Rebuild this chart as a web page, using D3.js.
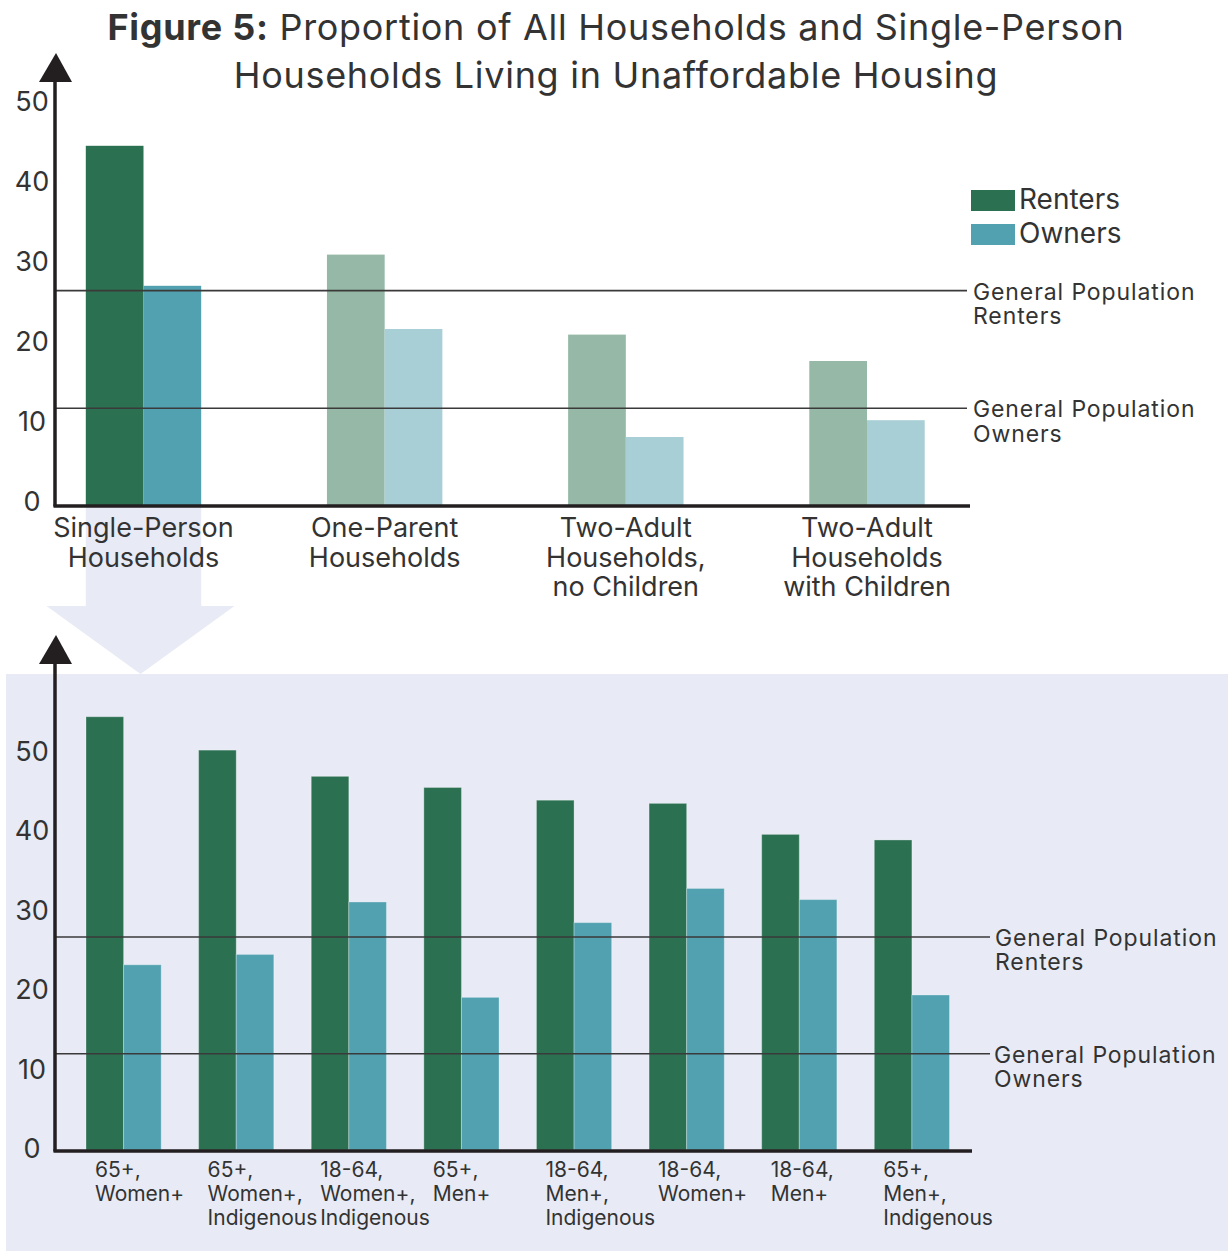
<!DOCTYPE html>
<html>
<head>
<meta charset="utf-8">
<script src="https://cdn.jsdelivr.net/npm/d3@7"></script>
<style>
  html, body { margin: 0; padding: 0; background: #ffffff; }
  svg { display: block; font-family: "Inter", "Open Sans", sans-serif; }
</style>
</head>
<body>
<svg id="chart" width="1231" height="1251"></svg>
<script>
// ---- Data -------------------------------------------------------------
const titleBold = "Figure 5:";
const titleLine1 = " Proportion of All Households and Single-Person";
const titleLine2 = "Households Living in Unaffordable Housing";

const seriesNames = ["Renters", "Owners"];
const yTicks = [0, 10, 20, 30, 40, 50];

// Household types (upper panel)
const householdLabels = [
  ["Single-Person", "Households"],
  ["One-Parent", "Households"],
  ["Two-Adult", "Households,", "no Children"],
  ["Two-Adult", "Households", "with Children"]
];
const householdRenters = [44.9, 31.3, 21.3, 18.0];
const householdOwners = [27.4, 22.0, 8.5, 10.6];

// Single-person households by age, gender and identity (lower panel)
const singleLabels = [
  ["65+,", "Women+"],
  ["65+,", "Women+,", "Indigenous"],
  ["18-64,", "Women+,", "Indigenous"],
  ["65+,", "Men+"],
  ["18-64,", "Men+,", "Indigenous"],
  ["18-64,", "Women+"],
  ["18-64,", "Men+"],
  ["65+,", "Men+,", "Indigenous"]
];
const singleRenters = [54.5, 50.3, 47.0, 45.6, 44.0, 43.6, 39.7, 39.0];
const singleOwners = [23.3, 24.6, 31.2, 19.2, 28.6, 32.9, 31.5, 19.5];

// General population reference levels
const generalRenters = 26.8;
const generalOwners = 12.1;
const referenceLabels = [
  ["General Population", "Renters"],
  ["General Population", "Owners"]
];

// ---- Styles -----------------------------------------------------------
const C = {
  renter: "#2c7052",
  owner: "#52a1b0",
  renterFaded: "#96b8a6",
  ownerFaded: "#a9cfd6",
  panel: "#e8ebf5",
  axis: "#231f20",
  text: "#333333",
  refLine: "#3a3a3a"
};

const svg = d3.select("#chart");

// ---- Title ------------------------------------------------------------
const title = svg.append("text")
  .attr("x", 616).attr("y", 40)
  .attr("text-anchor", "middle")
  .attr("font-size", 36)
  .attr("letter-spacing", 0.7)
  .attr("fill", C.text);
title.append("tspan").attr("font-weight", 700).text(titleBold);
title.append("tspan").text(titleLine1);
svg.append("text")
  .attr("x", 616).attr("y", 88)
  .attr("text-anchor", "middle")
  .attr("font-size", 36)
  .attr("letter-spacing", 0.7)
  .attr("fill", C.text)
  .text(titleLine2);

// ---- Shared helpers ---------------------------------------------------
const axisX = 55;

function drawYAxis(g, y, arrowTip, labelShift) {
  const arrowBase = arrowTip + 29;
  g.append("line")
    .attr("x1", axisX).attr("x2", axisX)
    .attr("y1", arrowBase - 2).attr("y2", y(0) + 1.5)
    .attr("stroke", C.axis).attr("stroke-width", 3.5);
  g.append("path")
    .attr("d", d3.line()([[axisX - 16, arrowBase], [axisX + 1, arrowTip], [axisX + 17, arrowBase]]) + "Z")
    .attr("fill", C.axis);

  const ax = d3.axisLeft(y).tickValues(yTicks).tickSize(0).tickPadding(0);
  const gAx = g.append("g").attr("transform", `translate(${axisX - 23},${labelShift})`).call(ax);
  gAx.select(".domain").remove();
  gAx.selectAll("text")
    .attr("text-anchor", "middle")
    .attr("x", 0)
    .attr("font-family", "Inter, sans-serif")
    .attr("font-size", 27)
    .attr("fill", C.text);
}

function drawReference(g, y, value, lines, lineEnd, textX) {
  g.append("line")
    .attr("x1", axisX).attr("x2", lineEnd)
    .attr("y1", y(value)).attr("y2", y(value))
    .attr("stroke", C.refLine).attr("stroke-width", 1.6);
  const t = g.append("text")
    .attr("x", textX).attr("y", y(value) + 9)
    .attr("font-size", 23)
    .attr("letter-spacing", 0.9)
    .attr("fill", C.text);
  lines.forEach((s, i) => t.append("tspan").attr("x", textX).attr("dy", i === 0 ? 0 : 24.5).text(s));
}

// ---- Upper panel: all household types ---------------------------------
const upperPanel = svg.append("g");
const yTop = d3.scaleLinear().domain([0, 50]).range([505, 105]);
const xTop = d3.scalePoint().domain(d3.range(householdLabels.length)).range([143.5, 867]);
const topBarW = 57.7;

// Highlight column and arrow linking the single-person group to the lower panel
const cx0 = xTop(0);
const panelTop = 674;
svg.insert("rect", ":first-child")
  .attr("x", 6).attr("y", panelTop)
  .attr("width", 1222).attr("height", 1251 - panelTop)
  .attr("fill", C.panel);
upperPanel.append("path")
  .attr("d", d3.line()([
    [cx0 - topBarW, yTop(0)], [cx0 - topBarW, 606], [cx0 - 97, 606],
    [cx0 - 3, panelTop], [cx0 + 91, 606], [cx0 + topBarW, 606], [cx0 + topBarW, yTop(0)]
  ]) + "Z")
  .attr("fill", C.panel);

householdLabels.forEach((_, i) => {
  const highlight = i === 0;
  upperPanel.append("rect")
    .attr("x", xTop(i) - topBarW).attr("width", topBarW)
    .attr("y", yTop(householdRenters[i])).attr("height", yTop(0) - yTop(householdRenters[i]))
    .attr("fill", highlight ? C.renter : C.renterFaded);
  upperPanel.append("rect")
    .attr("x", xTop(i)).attr("width", topBarW)
    .attr("y", yTop(householdOwners[i])).attr("height", yTop(0) - yTop(householdOwners[i]))
    .attr("fill", highlight ? C.owner : C.ownerFaded);
});

drawReference(upperPanel, yTop, generalRenters, referenceLabels[0], 967, 973);
drawReference(upperPanel, yTop, generalOwners, referenceLabels[1], 967, 973);

upperPanel.append("line")
  .attr("x1", axisX - 1.5).attr("x2", 970)
  .attr("y1", yTop(0) + 1).attr("y2", yTop(0) + 1)
  .attr("stroke", C.axis).attr("stroke-width", 3.5);
drawYAxis(upperPanel, yTop, 53, -3);

householdLabels.forEach((lines, i) => {
  const t = upperPanel.append("text")
    .attr("x", xTop(i)).attr("y", 537)
    .attr("text-anchor", "middle")
    .attr("font-size", 27)
    .attr("fill", C.text);
  lines.forEach((s, j) => t.append("tspan").attr("x", xTop(i)).attr("dy", j === 0 ? 0 : 29.5).text(s));
});

// Legend
const legend = svg.append("g");
[[seriesNames[0], C.renter, 190], [seriesNames[1], C.owner, 224]].forEach(([name, col, yy]) => {
  legend.append("rect").attr("x", 971).attr("y", yy).attr("width", 44).attr("height", 21).attr("fill", col);
  legend.append("text").attr("x", 1019).attr("y", yy + 19)
    .attr("font-size", 28).attr("fill", C.text).text(name);
});

// ---- Lower panel: single-person households ----------------------------
const lowerPanel = svg.append("g");
const yBot = d3.scaleLinear().domain([0, 50]).range([1150, 752.5]);
const xBot = d3.scalePoint().domain(d3.range(singleLabels.length)).range([123.6, 911.9]);
const botBarW = 37.6;

singleLabels.forEach((_, i) => {
  lowerPanel.append("rect")
    .attr("x", xBot(i) - botBarW).attr("width", botBarW)
    .attr("y", yBot(singleRenters[i])).attr("height", yBot(0) - yBot(singleRenters[i]))
    .attr("fill", C.renter)
    .attr("stroke", "rgba(255,255,255,0.3)").attr("stroke-width", 1);
  lowerPanel.append("rect")
    .attr("x", xBot(i)).attr("width", botBarW)
    .attr("y", yBot(singleOwners[i])).attr("height", yBot(0) - yBot(singleOwners[i]))
    .attr("fill", C.owner)
    .attr("stroke", "rgba(255,255,255,0.3)").attr("stroke-width", 1);
});

drawReference(lowerPanel, yBot, generalRenters, referenceLabels[0], 990, 995);
drawReference(lowerPanel, yBot, generalOwners, referenceLabels[1], 990, 994);

lowerPanel.append("line")
  .attr("x1", axisX - 1.5).attr("x2", 972)
  .attr("y1", yBot(0) + 1).attr("y2", yBot(0) + 1)
  .attr("stroke", C.axis).attr("stroke-width", 3.5);
drawYAxis(lowerPanel, yBot, 635, -1);

singleLabels.forEach((lines, i) => {
  const lx = xBot(i) - botBarW + 9;
  const t = lowerPanel.append("text")
    .attr("x", lx).attr("y", 1177)
    .attr("font-size", 21)
    .attr("fill", C.text);
  lines.forEach((s, j) => t.append("tspan").attr("x", lx).attr("dy", j === 0 ? 0 : 24).text(s));
});
</script>
</body>
</html>
